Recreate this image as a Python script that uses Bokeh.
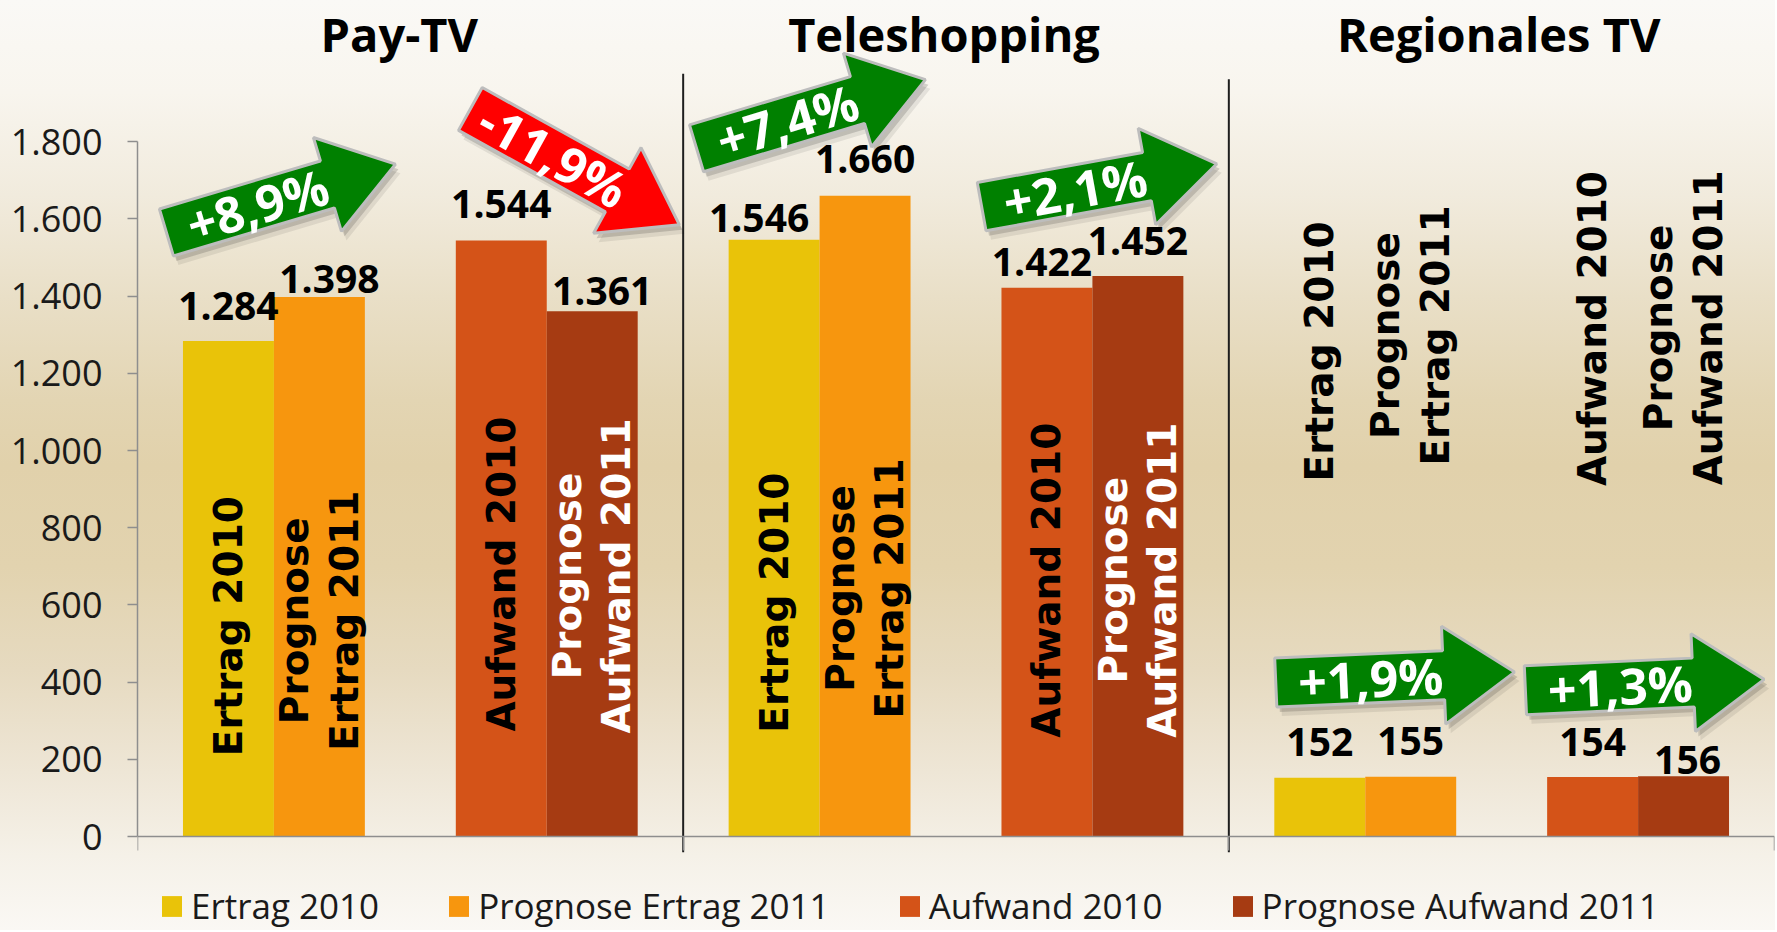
import math
from bokeh.plotting import figure
from bokeh.models import Range1d, FixedTicker, Legend, LegendItem
from bokeh.core.properties import value
from bokeh.embed import file_html
from bokeh.resources import INLINE

# ---------------- data ----------------
groups = ["Pay-TV", "Teleshopping", "Regionales TV"]
series_names = ["Ertrag 2010", "Prognose Ertrag 2011", "Aufwand 2010", "Prognose Aufwand 2011"]
ertrag_2010 = [1284, 1546, 152]
prognose_ertrag_2011 = [1398, 1660, 155]
aufwand_2010 = [1544, 1422, 154]
prognose_aufwand_2011 = [1361, 1452, 156]
ertrag_change = ["+8,9%", "+7,4%", "+1,9%"]
aufwand_change = ["-11,9%", "+2,1%", "+1,3%"]
bar_texts = ["Ertrag 2010", "Prognose\nErtrag 2011", "Aufwand 2010", "Prognose\nAufwand 2011"]
y_ticks = [0, 200, 400, 600, 800, 1000, 1200, 1400, 1600, 1800]

series_values = [ertrag_2010, prognose_ertrag_2011, aufwand_2010, prognose_aufwand_2011]

# ---------------- style / layout ----------------
W, H = 1775, 930
B_LEFT, B_RIGHT = 137, 1
FRAME_W = W - B_LEFT - B_RIGHT
ZERO_PX = 836                      # canvas row of the value 0
Y_MAX = 2166
PPY = ZERO_PX / Y_MAX
Y_MIN = -(H - ZERO_PX) / PPY
PPX = FRAME_W / 6.0

colors = ["#E9C309", "#F7960E", "#D45318", "#A63B12"]
slot = [1 / 3, 2 / 3, 4 / 3, 5 / 3]          # bar centre inside a group (category units)
BAR_W = 1 / 3

VAL_FS = 39
# value label pixel offsets (dx right, gap above bar top)
val_dx = [[0, -15, 0], [10, 0, 0], [0, -5, 0], [10, 0, 4]]
val_dy = [[20, 7, 21], [3, 22, 21], [22, 11, 21], [6, 21, 2]]
# centre (data units) of rotated in-bar labels
rot_y = [[545, 606, 1257], [559, 643, 1298], [680, 664, 1316], [675, 664, 1318]]
rot_col = [["#000000"] * 3, ["#000000"] * 3, ["#000000"] * 3, ["#FFFFFF", "#FFFFFF", "#000000"]]

# arrows: tail centre (data) and angle (deg)
ertrag_arrow = [(0.106, 1565, 16.6), (2.049, 1783, 16.7), (4.172, 399, 2.5)]
aufwand_arrow = [(1.220, 1885, -29.0), (3.094, 1632, 10.3), (5.087, 379, 2.6)]
SL, SW, HL, HW, TXT = 168, 49, 71, 98, 95

title_dx = [-11, -12, -3]
TITLE_Y = 2080
sep_top = [1976, 1962]
sep_bottom = -41

FONT = value("Open Sans")
FONT_ROT = value("DejaVu Sans")

p = figure(width=W, height=H, output_backend="svg", toolbar_location=None,
           x_range=Range1d(0, 6), y_range=Range1d(Y_MIN, Y_MAX),
           min_border_left=B_LEFT, min_border_right=B_RIGHT,
           min_border_top=0, min_border_bottom=0)
p.title.visible = False
p.background_fill_color = None
p.border_fill_color = None
p.outline_line_color = None
p.styles = {"background": "linear-gradient(to bottom, #FAF9F6 0%, #F8F5EE 10%, #F1EBDD 21%, "
                          "#E9DFC7 32%, #E3D5B3 43%, #E1D1AB 50%, #E2D3AF 61%, #E6DAC0 72%, "
                          "#EEE6D6 83%, #F5F1E8 92%, #FAF8F4 100%)"}
p.xgrid.visible = False
p.ygrid.visible = False

# axes
p.yaxis.ticker = FixedTicker(ticks=y_ticks)
p.yaxis.bounds = (y_ticks[0], y_ticks[-1])
p.yaxis.major_label_overrides = {t: f"{t:,}".replace(",", ".") for t in y_ticks}
p.yaxis.major_label_text_font = "Open Sans"
p.yaxis.major_label_text_font_size = "36px"
p.yaxis.major_label_text_color = "#1A1A1A"
p.yaxis.major_label_standoff = 25
p.yaxis.major_tick_out = 10
p.yaxis.major_tick_in = 0
p.yaxis.minor_tick_line_color = None
p.yaxis.axis_line_color = "#8E8E8E"
p.yaxis.axis_line_width = 1.5
p.yaxis.major_tick_line_color = "#8E8E8E"
p.yaxis.major_tick_line_width = 1.5

p.xaxis.fixed_location = 0
p.xaxis.ticker = FixedTicker(ticks=[0, 2, 4, 6])
p.xaxis.major_label_text_font_size = "10px"
p.xaxis.major_label_text_color = None
p.xaxis.major_tick_out = 14
p.xaxis.major_tick_in = 0
p.xaxis.minor_tick_line_color = None
p.xaxis.axis_line_color = "#8E8E8E"
p.xaxis.axis_line_width = 1.5
p.xaxis.major_tick_line_color = "#8E8E8E"
p.xaxis.major_tick_line_width = 1.5

# group separators
p.segment(x0=[2, 4], y0=[sep_bottom] * 2, x1=[2, 4], y1=sep_top,
          line_color="#1E1E1E", line_width=2)

# bars
bar_renderers = []
for s in range(4):
    xs = [2 * g + slot[s] for g in range(len(groups))]
    r = p.vbar(x=xs, top=series_values[s], width=BAR_W, bottom=0,
               fill_color=colors[s], line_color=None)
    bar_renderers.append(r)

# rotated in-bar labels
for s in range(4):
    xs = [2 * g + slot[s] for g in range(len(groups))]
    p.text(x=xs, y=rot_y[s], text=[bar_texts[s]] * 3, angle=math.pi / 2,
           text_align="center", text_baseline="middle", text_font=FONT_ROT,
           text_font_style="bold", text_font_size="39px", text_color=rot_col[s],
           text_line_height=1.1)

# value labels
for s in range(4):
    xs = [2 * g + slot[s] for g in range(len(groups))]
    p.text(x=xs, y=series_values[s],
           text=[f"{v:,}".replace(",", ".") for v in series_values[s]],
           x_offset=val_dx[s], y_offset=[-(d + 0.37 * VAL_FS) for d in val_dy[s]],
           text_align="center", text_baseline="middle", text_font=FONT,
           text_font_style="bold", text_font_size=f"{VAL_FS}px", text_color="#000000")

# change arrows
def arrow_poly(x0, y0, ang):
    a = math.radians(ang)
    ca, sa = math.cos(a), math.sin(a)
    pts = [(0, SW / 2), (SL, SW / 2), (SL, HW / 2), (SL + HL, 0),
           (SL, -HW / 2), (SL, -SW / 2), (0, -SW / 2)]
    xs = [x0 + (s * ca - t * sa) / PPX for s, t in pts]
    ys = [y0 + (s * sa + t * ca) / PPY for s, t in pts]
    tx = x0 + TXT * ca / PPX
    ty = y0 + TXT * sa / PPY
    return xs, ys, tx, ty, a

arr_xs, arr_ys, sh_xs, sh_ys, sh2_xs, sh2_ys = [], [], [], [], [], []
arr_col, txt_x, txt_y, txt_a, txt_t = [], [], [], [], []
for specs, labels in ((ertrag_arrow, ertrag_change), (aufwand_arrow, aufwand_change)):
    for (x0, y0, ang), lab in zip(specs, labels):
        xs, ys, tx, ty, a = arrow_poly(x0, y0, ang)
        arr_xs.append(xs); arr_ys.append(ys)
        sh_xs.append([x + 3 / PPX for x in xs]); sh_ys.append([y - 5 / PPY for y in ys])
        sh2_xs.append([x + 5 / PPX for x in xs]); sh2_ys.append([y - 9 / PPY for y in ys])
        arr_col.append("#FF0000" if lab.startswith("-") else "#008000")
        txt_x.append(tx); txt_y.append(ty); txt_a.append(a); txt_t.append(lab)

p.patches(xs=sh2_xs, ys=sh2_ys, fill_color="#000000", fill_alpha=0.08, line_color=None)
p.patches(xs=sh_xs, ys=sh_ys, fill_color="#000000", fill_alpha=0.15, line_color=None)
p.patches(xs=arr_xs, ys=arr_ys, fill_color=arr_col, line_color="#BDBDBD", line_width=3)
p.text(x=txt_x, y=txt_y, text=txt_t, angle=txt_a, text_align="center",
       text_baseline="middle", text_font=FONT, text_font_style="bold",
       text_font_size="50px", text_color="#FFFFFF")

# group titles
p.text(x=[2 * g + 1 for g in range(len(groups))], y=[TITLE_Y] * 3, text=groups,
       x_offset=title_dx, text_align="center", text_baseline="middle",
       text_font=FONT, text_font_style="bold", text_font_size="47px", text_color="#000000")

# legend below the axis (inside the frame area)
lg = Legend(items=[LegendItem(label=series_names[s], renderers=[bar_renderers[s]]) for s in range(4)],
            location=(22, 1), orientation="horizontal",
            glyph_width=25, glyph_height=26, label_standoff=7,
            label_text_font="Open Sans", label_text_font_size="35px",
            label_text_color="#1A1A1A", padding=0, margin=0, spacing=67,
            border_line_color=None, background_fill_alpha=0)
p.add_layout(lg, "center")

open("out.html", "w").write(file_html(p, INLINE))
